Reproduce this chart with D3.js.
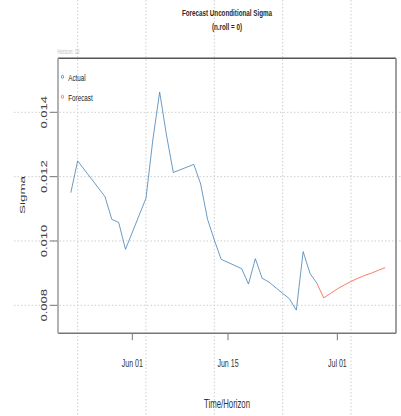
<!DOCTYPE html>
<html>
<head>
<meta charset="utf-8">
<script src="https://cdn.jsdelivr.net/npm/d3@7/dist/d3.min.js"></script>
<style>
  html, body { margin: 0; padding: 0; background: #fff; }
  svg { display: block; font-family: "Liberation Sans", Arial, sans-serif; }
</style>
</head>
<body>
<svg id="chart" width="401" height="416"></svg>
<script>
// Observed sigma (trading days) and the 10-step unconditional forecast
const actualDates = ["2013-05-23","2013-05-24","2013-05-28","2013-05-29","2013-05-30","2013-05-31",
  "2013-06-03","2013-06-04","2013-06-05","2013-06-06","2013-06-07","2013-06-10","2013-06-11",
  "2013-06-12","2013-06-13","2013-06-14","2013-06-17","2013-06-18","2013-06-19","2013-06-20",
  "2013-06-21","2013-06-24","2013-06-25","2013-06-26","2013-06-27","2013-06-28"];
const actualSigma = [0.01150, 0.01249, 0.01138, 0.01067, 0.01058, 0.00974,
  0.01133, 0.01314, 0.01463, 0.01329, 0.01213, 0.01238, 0.01177,
  0.01068, 0.01003, 0.00943, 0.00914, 0.00866, 0.00945, 0.00884,
  0.00872, 0.00820, 0.00785, 0.00967, 0.00899, 0.00869];
const forecastDates = ["2013-06-29","2013-06-30","2013-07-01","2013-07-02","2013-07-03",
  "2013-07-04","2013-07-05","2013-07-06","2013-07-07","2013-07-08"];
const forecastSigma = [0.00823, 0.00837, 0.00851, 0.00863, 0.00874,
  0.00884, 0.00893, 0.00900, 0.00909, 0.00917];

const yTicks = [0.008, 0.010, 0.012, 0.014];
const xTickDates = ["2013-06-01","2013-06-15","2013-07-01"];
const xTickLabels = ["Jun 01","Jun 15","Jul 01"];
const gridDates = ["2013-05-24","2013-06-03","2013-06-13","2013-06-23","2013-07-03"];
const horizon = 10;
const nRoll = 0;

const parse = d3.utcParse("%Y-%m-%d");
const svg = d3.select("#chart");

const box = { left: 58, right: 396, top: 58.3, bottom: 333.3 };

const x = d3.scaleUtc()
  .domain([new Date(Date.UTC(2013, 4, 21, 3)), new Date(Date.UTC(2013, 6, 9, 14))])
  .range([box.left, box.right]);
const y = d3.scaleLinear()
  .domain([0.00713, 0.015679])
  .range([box.bottom, box.top]);

// helper for the narrow, slightly condensed lettering
function label(g, tx, ty, str, opts) {
  const o = Object.assign({ size: 11, sx: 0.66, rot: 0, anchor: "middle", fill: "#222", weight: "normal" }, opts || {});
  const t = g.append("g")
    .attr("transform", `translate(${tx},${ty}) scale(${o.sx},1)` + (o.rot ? ` rotate(${o.rot})` : ""));
  t.append("text")
    .attr("text-anchor", o.anchor)
    .attr("font-size", o.size)
    .attr("font-weight", o.weight)
    .attr("fill", o.fill)
    .text(str);
  return t;
}

// grid
const grid = svg.append("g")
  .attr("stroke", "#cfcfcf")
  .attr("stroke-width", 1)
  .attr("stroke-dasharray", "1.5,2");
grid.selectAll("line.h").data(yTicks).join("line")
  .attr("class", "h")
  .attr("x1", 14).attr("x2", 401)
  .attr("y1", d => y(d)).attr("y2", d => y(d));
grid.selectAll("line.v").data(gridDates).join("line")
  .attr("class", "v")
  .attr("x1", d => x(parse(d))).attr("x2", d => x(parse(d)))
  .attr("y1", 0).attr("y2", 416);

// y axis ticks and labels
const yAxis = svg.append("g");
yAxis.selectAll("line").data(yTicks).join("line")
  .attr("x1", box.left - 8).attr("x2", box.left)
  .attr("y1", d => y(d)).attr("y2", d => y(d))
  .attr("stroke", "#777").attr("stroke-width", 1);
const fmt = d3.format(".3f");
yTicks.forEach(v => label(yAxis, 46.8, y(v), fmt(v), { size: 13, sx: 0.75, rot: -90, fill: "#444" }));

// x axis ticks and labels
const xAxis = svg.append("g");
xAxis.selectAll("line").data(xTickDates).join("line")
  .attr("x1", d => x(parse(d))).attr("x2", d => x(parse(d)))
  .attr("y1", box.bottom).attr("y2", box.bottom + 7)
  .attr("stroke", "#777").attr("stroke-width", 1);
xTickDates.forEach((d, i) => label(xAxis, x(parse(d)), 367, xTickLabels[i], { size: 11, sx: 0.64, fill: "#333" }));

// axis titles
label(svg, 227, 408, "Time/Horizon", { size: 12, sx: 0.65, fill: "#333" });
label(svg, 24.5, 195, "Sigma", { size: 13.5, sx: 0.6, rot: -90, fill: "#333" });

// title
label(svg, 227, 16, "Forecast Unconditional Sigma", { size: 9.5, sx: 0.66, weight: "bold", fill: "#2a2a2a" });
label(svg, 227, 30, `(n.roll = ${nRoll})`, { size: 9.5, sx: 0.66, weight: "bold", fill: "#2a2a2a" });
label(svg, 57.5, 54, `Horizon: ${horizon}`, { size: 6.5, sx: 0.66, anchor: "start", fill: "#bbb" });

// plot frame
const frame = svg.append("g").attr("fill", "none");
frame.append("line").attr("x1", box.left).attr("x2", box.right).attr("y1", box.top).attr("y2", box.top)
  .attr("stroke", "#555").attr("stroke-width", 1.6);
frame.append("line").attr("x1", box.right).attr("x2", box.right).attr("y1", box.top).attr("y2", box.bottom)
  .attr("stroke", "#888").attr("stroke-width", 1.6);
frame.append("line").attr("x1", box.left).attr("x2", box.right).attr("y1", box.bottom).attr("y2", box.bottom)
  .attr("stroke", "#777").attr("stroke-width", 1.6);
frame.append("line").attr("x1", box.left).attr("x2", box.left).attr("y1", box.top).attr("y2", box.bottom)
  .attr("stroke", "#aaa").attr("stroke-width", 1.8);

// series
const actual = actualDates.map((d, i) => ({ date: parse(d), v: actualSigma[i] }));
const forecast = [actual[actual.length - 1]].concat(
  forecastDates.map((d, i) => ({ date: parse(d), v: forecastSigma[i] })));

const line = d3.line().x(d => x(d.date)).y(d => y(d.v));
svg.append("path").datum(actual)
  .attr("fill", "none").attr("stroke", "steelblue").attr("stroke-width", 1)
  .attr("stroke-opacity", 0.8).attr("d", line);
svg.append("path").datum(forecast)
  .attr("fill", "none").attr("stroke", "tomato").attr("stroke-width", 1)
  .attr("stroke-opacity", 0.85).attr("d", line);

// legend
const legend = svg.append("g");
[["Actual", "steelblue", 77.3], ["Forecast", "tomato", 97.3]].forEach(([name, col, ly]) => {
  legend.append("ellipse").attr("cx", 62.5).attr("cy", ly - 0.5).attr("rx", 1.1).attr("ry", 1.6)
    .attr("fill", "none").attr("stroke", col).attr("stroke-width", 0.8);
  label(legend, 68.3, ly + 3.3, name, { size: 9.5, sx: 0.66, anchor: "start", fill: "#222" });
});
</script>
</body>
</html>
